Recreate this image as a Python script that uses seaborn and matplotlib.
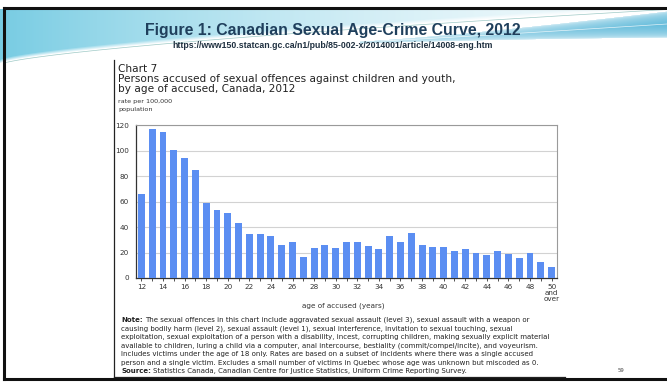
import numpy as np
import pandas as pd
import matplotlib
matplotlib.use("Agg")
import matplotlib.pyplot as plt
import seaborn as sns

# Rate of persons accused per 100,000 population, by single year of age
ages = [str(a) for a in range(12, 50)] + ["50+"]
rates = [66, 117, 114.5, 100.5, 94, 85, 59, 53.5, 51, 43.5, 34.5, 34.5, 33,
         26, 28, 16.5, 23.5, 25.5, 23.5, 28.5, 28, 25, 23, 33, 28, 35.5,
         25.5, 24, 24, 21, 22.5, 20, 18, 21.5, 19, 15.5, 19.5, 12.5, 9]
tick_labels = [str(a) for a in range(12, 50, 2)] + ["50\nand\nover"]
y_ticks = [0, 20, 40, 60, 80, 100, 120]

df = pd.DataFrame({"age": ages, "rate": rates})

W, H = 667, 382
fig = plt.figure(figsize=(W / 100, H / 100), dpi=100)
fig.patch.set_facecolor("white")

# ---- slide background -------------------------------------------------
bg = fig.add_axes([0, 0, 1, 1])
bg.set_xlim(0, W)
bg.set_ylim(H, 0)
bg.axis("off")

yy, xx = np.mgrid[0:H, 0:W].astype(float)
t = xx / W
blue = np.array([0.47, 0.80, 0.89])
deep = np.array([0.40, 0.74, 0.86])
white = np.ones(3)

# upper-left sweep: blue above a rising curve, fading towards the right
s1 = 63 - 55 * t ** 0.7
a_up = np.clip((s1 - yy) / 4, 0, 1) * (0.88 * (1 - t) ** 1.8 + 0.12)
a_up[(yy < 9) | (yy > 72)] = 0
# ribbon sweeping down from the top-right corner
u = np.clip((xx - 360) / (W - 360), 0, 1)
c = 42 - 18 * u ** 1.1
th = 1.5 + 24 * u ** 1.4
a_rib = np.clip(1 - np.abs(yy - c) / (th / 2 + 0.5), 0, 1) ** 0.3 * (0.4 + 0.6 * u)
a_rib[(xx < 360) | (yy < 9)] = 0
img = white * (1 - a_up[..., None]) + blue * a_up[..., None]
img = img * (1 - a_rib[..., None]) + deep * a_rib[..., None]
bg.imshow(img, extent=(0, W, H, 0), aspect="auto", zorder=0,
          interpolation="bilinear")
xs = np.linspace(5, W, 300)
ts = xs / W
bg.plot(xs, 63 - 55 * ts ** 0.7 + 1.5, color="#4f9e98", lw=0.5, alpha=0.55, zorder=1)
us = np.clip((xs - 360) / (W - 360), 0, 1)
m = xs > 380
bg.plot(xs[m], (42 - 18 * us ** 1.1)[m], color="white", lw=0.5, alpha=0.8, zorder=1)

# slide frame
bg.plot([4, W], [8, 8], color="#111111", lw=2.2, zorder=3)
bg.plot([4, 4], [8, 379], color="#111111", lw=2.2, zorder=3)
bg.plot([4, W], [379, 379], color="#111111", lw=2.2, zorder=3)

# embedded chart panel
bg.add_patch(plt.Rectangle((114, 60), 451, 317, facecolor="white",
                           edgecolor="none", zorder=2))
bg.plot([114, 114], [60, 377], color="#222222", lw=0.9, zorder=3)
bg.plot([114, 565], [377, 377], color="#222222", lw=0.9, zorder=3)

bg.text(333, 30, "Figure 1: Canadian Sexual Age-Crime Curve, 2012",
        ha="center", va="center", fontsize=11.4, fontweight="bold",
        family="Liberation Sans", color="#1f3f5c", zorder=4)
bg.text(333, 45.5, "https://www150.statcan.gc.ca/n1/pub/85-002-x/2014001/article/14008-eng.htm",
        ha="center", va="center", fontsize=6.3, fontweight="bold",
        family="Liberation Sans", color="#1f3040", zorder=4)

tf = "DejaVu Sans"
bg.text(118, 69, "Chart 7", ha="left", va="center", fontsize=7.6,
        family=tf, color="#222222", zorder=4)
bg.text(118, 79, "Persons accused of sexual offences against children and youth,",
        ha="left", va="center", fontsize=7.6, family=tf, color="#222222", zorder=4)
bg.text(118, 89.5, "by age of accused, Canada, 2012",
        ha="left", va="center", fontsize=7.6, family=tf, color="#222222", zorder=4)
bg.text(118, 102, "rate per 100,000", ha="left", va="center", fontsize=4.6,
        family=tf, color="#333333", zorder=4)
bg.text(118, 109.5, "population", ha="left", va="center", fontsize=4.6,
        family=tf, color="#333333", zorder=4)
bg.text(343, 306, "age of accused (years)", ha="center", va="center",
        fontsize=5.2, family=tf, color="#333333", zorder=4)

note_lines = [
    "The sexual offences in this chart include aggravated sexual assault (level 3), sexual assault with a weapon or",
    "causing bodily harm (level 2), sexual assault (level 1), sexual interference, invitation to sexual touching, sexual",
    "exploitation, sexual exploitation of a person with a disability, incest, corrupting children, making sexually explicit material",
    "available to children, luring a child via a computer, anal intercourse, bestiality (commit/compel/incite), and voyeurism.",
    "Includes victims under the age of 18 only. Rates are based on a subset of incidents where there was a single accused",
    "person and a single victim. Excludes a small number of victims in Quebec whose age was unknown but miscoded as 0.",
]
nfs = 5.0
y0, dy = 320, 8.5
renderer = fig.canvas.get_renderer()


def lead_text(y, head, body):
    """Bold lead-in followed by regular text on the same line."""
    h = bg.text(121, y, head, ha="left", va="center", fontsize=nfs, family=tf,
                fontweight="bold", color="#222222", zorder=4)
    ext = h.get_window_extent(renderer=renderer)
    x_end = ext.x1 + 2
    x_data = bg.transData.inverted().transform((x_end, 0))[0]
    bg.text(x_data, y, body, ha="left", va="center", fontsize=nfs, family=tf,
            color="#222222", zorder=4)


lead_text(y0, "Note:", note_lines[0])
for i, line in enumerate(note_lines[1:], start=1):
    bg.text(121, y0 + i * dy, line, ha="left", va="center", fontsize=nfs,
            family=tf, color="#222222", zorder=4)
lead_text(y0 + 6 * dy, "Source:",
          "Statistics Canada, Canadian Centre for Justice Statistics, Uniform Crime Reporting Survey.")
bg.text(621, 370, "59", ha="center", va="center", fontsize=3.8, family=tf,
        color="#444444", zorder=4)

# ---- bar chart --------------------------------------------------------
left, right, top, bottom = 136, 557, 125, 278
ax = fig.add_axes([left / W, 1 - bottom / H, (right - left) / W, (bottom - top) / H])
ax.set_facecolor("white")
sns.barplot(data=df, x="age", y="rate", color="#5b8ef2", width=0.64,
            saturation=1, ax=ax, zorder=3)
ax.set_xlim(-0.5, len(ages) - 0.5)
ax.set_ylim(0, 120)
ax.set_yticks(y_ticks)
ax.set_yticklabels([str(v) for v in y_ticks])
ax.yaxis.grid(True, color="#d2d2d2", lw=0.8, zorder=0)
ax.set_axisbelow(True)
ax.set_xlabel("")
ax.set_ylabel("")
ax.set_xticks(range(0, len(ages), 2))
ax.set_xticklabels(tick_labels, linespacing=0.95)
ax.set_xticks(range(len(ages)), minor=True)
ax.tick_params(axis="x", which="both", length=2.5, width=0.6, color="#333333",
               labelsize=5.2, labelcolor="#333333", pad=2)
ax.tick_params(axis="y", length=0, labelsize=5.2, labelcolor="#333333", pad=5)
for lab in ax.get_yticklabels():
    lab.set_family(tf)
for lab in ax.get_xticklabels():
    lab.set_family(tf)
    lab.set_va("top")
for side in ["top", "right"]:
    ax.spines[side].set_color("#9a9a9a")
    ax.spines[side].set_linewidth(0.8)
for side in ["left", "bottom"]:
    ax.spines[side].set_color("#333333")
    ax.spines[side].set_linewidth(0.9)

fig.savefig("out.png", dpi=100)
